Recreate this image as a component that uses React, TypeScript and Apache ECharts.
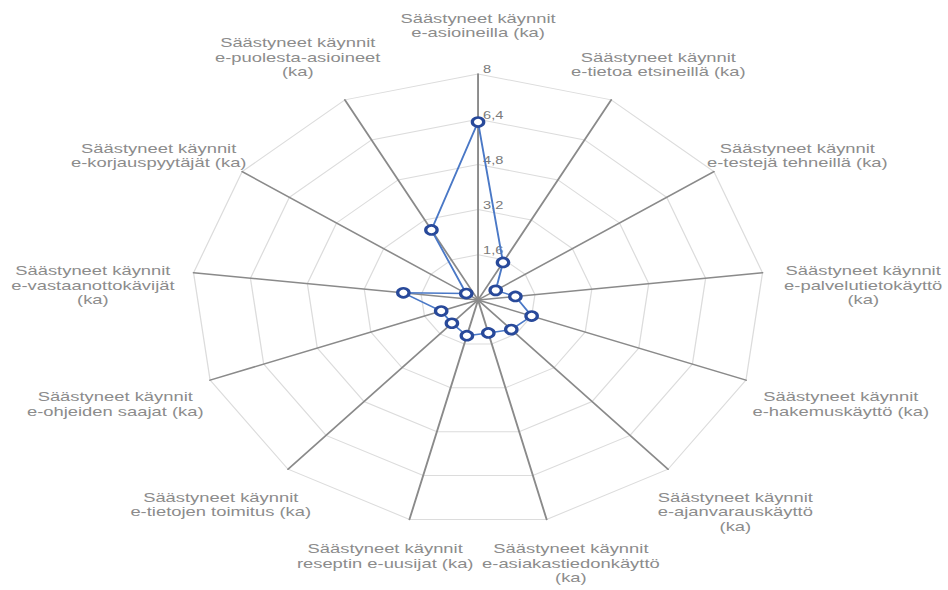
import React, { useEffect, useRef } from "react";
import * as echarts from "echarts";

// Indicator names, clockwise from the top spoke
const indicatorNames: string[] = [
  "Säästyneet käynnit\ne-asioineilla (ka)",
  "Säästyneet käynnit\ne-tietoa etsineillä (ka)",
  "Säästyneet käynnit\ne-testejä tehneillä (ka)",
  "Säästyneet käynnit\ne-palvelutietokäyttö\n(ka)",
  "Säästyneet käynnit\ne-hakemuskäyttö (ka)",
  "Säästyneet käynnit\ne-ajanvarauskäyttö\n(ka)",
  "Säästyneet käynnit\ne-asiakastiedonkäyttö\n(ka)",
  "Säästyneet käynnit\nreseptin e-uusijat (ka)",
  "Säästyneet käynnit\ne-tietojen toimitus (ka)",
  "Säästyneet käynnit\ne-ohjeiden saajat (ka)",
  "Säästyneet käynnit\ne-vastaanottokävijät\n(ka)",
  "Säästyneet käynnit\ne-korjauspyytäjät (ka)",
  "Säästyneet käynnit\ne-puolesta-asioineet\n(ka)",
];

// Average saved visits per indicator, same order as the names
const savedVisits: number[] = [6.3, 1.5, 0.6, 1.05, 1.6, 1.4, 1.2, 1.3, 1.1, 1.1, 2.1, 0.4, 2.8];

const axisMin = 0;
const axisMax = 8;
const axisStep = 1.6;

// Drawing is done on a narrower canvas and widened horizontally
const STRETCH = 1.268;
const BASE_W = 748;
const BASE_H = 590;
const CX = 377;
const CY = 300;
const R = 226;

const FONT = '"Liberation Sans", Arial, Helvetica, sans-serif';
const NAME_SIZE = 13;
const NAME_WIDEN = 1.115;
const NAME_LINE = 14.5;

const n = indicatorNames.length;

// ECharts lays radar indicators out counter-clockwise; reverse all but the first
const order = [0, ...Array.from({ length: n - 1 }, (_, k) => n - 1 - k)];

// Names sit outside the web, centred horizontally on a wider ring;
// upper names grow upwards, lower ones grow downwards
function namePlacement(i: number, lines: number) {
  const t = (2 * Math.PI * i) / n;
  const s = Math.sin(t);
  const c = Math.cos(t);
  const x = CX + (R + 80) * s;
  let firstLineMid = CY - (R + 41) * c - 14.5 + 17.7 * Math.abs(s);
  const up = Math.min(1, Math.max(0, (c - 0.3) / 0.4));
  firstLineMid -= (lines - 2) * NAME_LINE * up;
  return { x, y: firstLineMid - NAME_LINE / 2 };
}

const fmt = (v: number) => String(Math.round(v * 10) / 10).replace(".", ",");

export default function App() {
  const ref = useRef<HTMLDivElement>(null);

  useEffect(() => {
    if (!ref.current) return;
    const chart = echarts.init(ref.current, undefined, { renderer: "svg" });

    const option: any = {
      animation: false,
      backgroundColor: "#ffffff",
      radar: {
        center: [CX, CY],
        radius: R,
        startAngle: 90,
        splitNumber: 5,
        shape: "polygon",
        indicator: order.map((i) => ({ name: indicatorNames[i], min: axisMin, max: axisMax })),
        axisName: { show: false },
        axisLine: { lineStyle: { color: "#8a8a8a", width: 1.5 } },
        splitLine: { lineStyle: { color: "#dcdcdc", width: 1 } },
        splitArea: { show: false },
        axisTick: { show: false },
        axisLabel: { show: false },
      },
      grid: { left: CX, top: CY - R, width: 40, height: R },
      xAxis: { type: "value", show: false, min: 0, max: 1 },
      yAxis: {
        type: "value",
        min: axisMin,
        max: axisMax,
        interval: axisStep,
        axisLine: { show: false },
        axisTick: { show: false },
        splitLine: { show: false },
        axisLabel: {
          inside: true,
          margin: 4,
          showMinLabel: false,
          formatter: (v: number) => fmt(v),
          color: "#7a7a7a",
          fontSize: 11.5,
          fontFamily: FONT,
          verticalAlign: "bottom",
          lineHeight: 9,
        },
      },
      series: [
        {
          type: "radar",
          z: 3,
          symbol: "circle",
          symbolSize: 9,
          itemStyle: { color: "#ffffff", borderColor: "#28499a", borderWidth: 2.6 },
          lineStyle: { color: "#4a78c6", width: 1.5 },
          data: [{ name: "Säästyneet käynnit", value: order.map((i) => savedVisits[i]) }],
        },
      ],
      graphic: indicatorNames.map((name, i) => {
        const p = namePlacement(i, name.split("\n").length);
        return {
          type: "text",
          x: p.x,
          y: p.y,
          scaleX: NAME_WIDEN,
          silent: true,
          style: {
            text: name,
            fill: "#8c8c8c",
            fontSize: NAME_SIZE,
            fontFamily: FONT,
            lineHeight: NAME_LINE,
            align: "center",
            verticalAlign: "top",
            textAlign: "center",
            textVerticalAlign: "top",
          },
        };
      }),
    };

    chart.setOption(option);
    return () => chart.dispose();
  }, []);

  return (
    <div
      ref={ref}
      style={{
        position: "fixed",
        left: 0,
        top: 0,
        width: BASE_W,
        height: BASE_H,
        transform: `scaleX(${STRETCH})`,
        transformOrigin: "0 0",
      }}
    />
  );
}
